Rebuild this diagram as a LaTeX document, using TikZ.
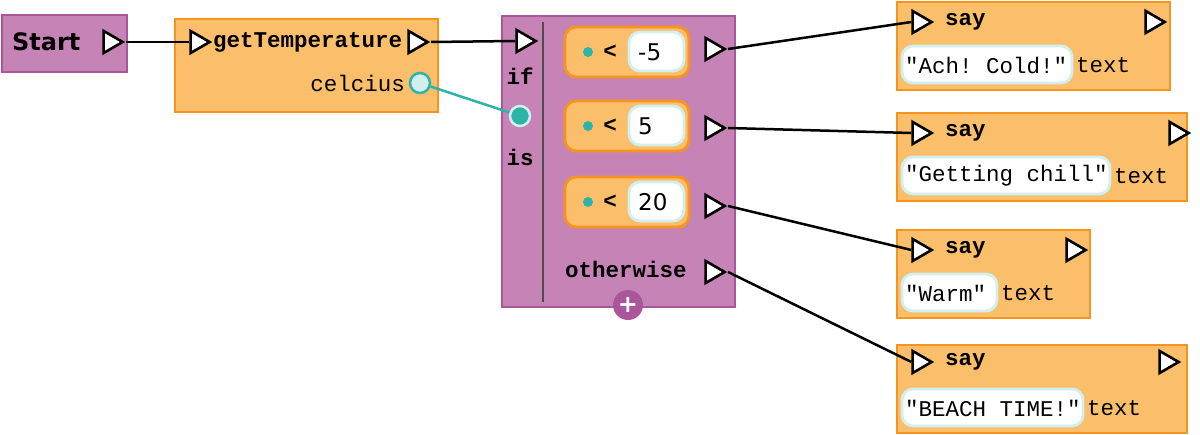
\documentclass[tikz,border=0pt]{standalone}
\usepackage{fontspec}
\setmonofont{Liberation Mono}
\setsansfont{DejaVu Sans}
\usetikzlibrary{shapes.geometric}
\definecolor{pur}{HTML}{C683B5}
\definecolor{purd}{HTML}{A9569A}
\definecolor{org}{HTML}{FBBF6B}
\definecolor{orgd}{HTML}{F7941D}
\definecolor{teal}{HTML}{2BB5A8}
\definecolor{lcy}{HTML}{D3EEEE}
\tikzset{
 blk/.style={draw=orgd,fill=org,line width=2.2pt},
 pblk/.style={draw=purd,fill=pur,line width=2.2pt},
 tri/.style={isosceles triangle,isosceles triangle stretches,draw=black,fill=white,line width=2.6pt,inner sep=0,minimum width=22pt,minimum height=19pt},
 mono/.style={font=\fontsize{22.5}{24}\selectfont\ttfamily,inner sep=0},
 bmono/.style={font=\fontsize{22.5}{24}\selectfont\ttfamily\bfseries,inner sep=0},
 cond/.style={draw=orgd,fill=org,line width=2.8pt,rounded corners=11pt},
 val/.style={draw=lcy,fill=white,line width=2.8pt,rounded corners=11pt},
 wire/.style={line width=2.5pt,black},
}
\begin{document}
\begin{tikzpicture}[x=1pt,y=-1pt]
\useasboundingbox (0,0) rectangle (1200,435);
% Start
\draw[pblk] (2,15) rectangle (127,72);
\node[anchor=west,inner sep=0,font=\fontsize{24}{26}\selectfont\sffamily\bfseries] (start) at (12,42) {Start};
\node[tri] (t0) at (110,42) {};
% getTemperature
\draw[blk] (175,19) rectangle (438,112);
\node[tri] (t1) at (197,42) {};
\node[bmono,anchor=west] (gt) at (213,42) {getTemperature};
\node[tri] (t2) at (415,42) {};
\node[mono,anchor=east] (cel) at (405,83) {celcius};
\node[circle,draw=teal,fill=lcy,line width=2.5pt,minimum size=20pt,inner sep=0] (c1) at (420,83) {};
% if block
\draw[pblk] (502,16) rectangle (735,307);
\draw[line width=1.5pt,black!70] (543,22) -- (543,302);
\node[tri] (t3) at (523,41) {};
\node[bmono] (if) at (520,76) {if};
\node[circle,draw=lcy,fill=teal,line width=2.5pt,minimum size=20pt,inner sep=0] (c2) at (520,116) {};
\node[bmono] (is) at (520,157) {is};
\draw[teal,line width=2.5pt] (c1) -- (c2);
\foreach \y/\v/\n in {52/-5/a,126/5/b,202/20/c}{
  \draw[cond] (565,\y-25) rectangle (689,\y+25);
  \fill[teal] (588,\y) circle (5pt);
  \node[bmono] (lt\n) at (610,\y) {<};
  \draw[val] (629,\y-20) rectangle (684,\y+19);
  \node[anchor=west,inner sep=0,font=\fontsize{23}{24}\selectfont\sffamily] (v\n) at (638,\y) {\v};
}
\node[tri] (oa) at (712,49) {};
\node[tri] (ob) at (712,128) {};
\node[tri] (oc) at (712,206) {};
\node[bmono,anchor=west] (ow) at (565,269) {otherwise};
\node[tri] (od) at (712,272) {};
\node[circle,fill=purd,minimum size=30pt,inner sep=0,text=white,font=\bfseries\fontsize{24}{24}\selectfont\sffamily] (plus) at (628,305) {+};
% say boxes
\foreach \x/\y/\h/\rx/\sw/\s/\n in {
 1170/2/22/1152/1072/"Ach! Cold!"/1,
 1187/113/133/1176/1110/"Getting chill"/2,
 1090/230/250/1073/997/"Warm"/3,
 1187/345/362/1166/1083/"BEACH TIME!"/4}{
  \draw[blk] (897,\y) rectangle (\x,\y+88);
  \node[tri] (s\n) at (919,\h) {};
  \node[bmono,anchor=west] (say\n) at (945,\h) {say};
  \node[tri] (r\n) at (\rx,\h) {};
  \draw[val] (902,\y+44) rectangle (\sw,\y+81);
  \node[mono,anchor=west] (str\n) at (905,\y+63) {\s};
  \node[mono,anchor=west] (tx\n) at (\sw+4,\y+63) {text};
}
\draw[wire] (t0.apex) -- (t1.west);
\draw[wire] (t2.apex) -- (t3.west);
\draw[wire] (oa.apex) -- (s1.west);
\draw[wire] (ob.apex) -- (s2.west);
\draw[wire] (oc.apex) -- (s3.west);
\draw[wire] (od.apex) -- (s4.west);
\end{tikzpicture}
\end{document}
